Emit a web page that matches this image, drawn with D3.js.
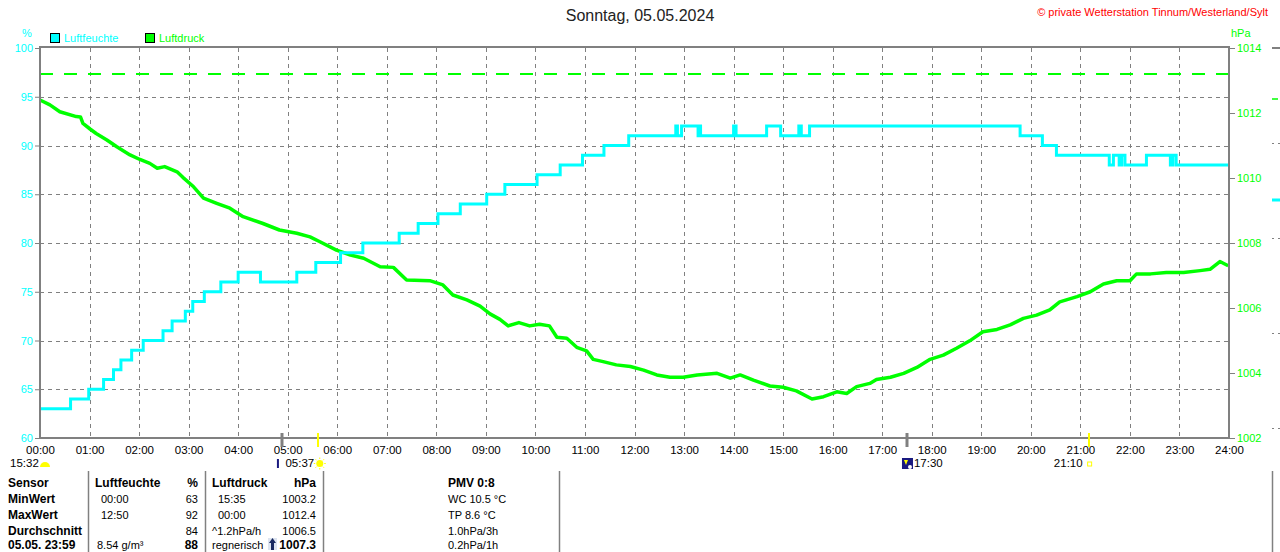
<!DOCTYPE html>
<html>
<head>
<meta charset="utf-8">
<script src="https://cdn.jsdelivr.net/npm/d3@7"></script>
<style>
  body { margin: 0; background: #fff; }
  svg { display: block; font-family: "Liberation Sans", Arial, sans-serif; }
</style>
</head>
<body>
<svg id="chart" width="1280" height="552"></svg>
<script>
// ---------------- DATA ----------------
const hourLabels = ["00:00","01:00","02:00","03:00","04:00","05:00","06:00","07:00","08:00","09:00","10:00","11:00","12:00",
  "13:00","14:00","15:00","16:00","17:00","18:00","19:00","20:00","21:00","22:00","23:00","24:00"];
const humTicks = [60, 65, 70, 75, 80, 85, 90, 95, 100];
const pressTicks = [1002, 1004, 1006, 1008, 1010, 1012, 1014];
const refPressure = 1013.2;

// Luftfeuchte (%), step changes
const humTimes = ["00:00","00:37","00:59","01:17","01:29","01:38","01:51","02:05","02:29","02:40","02:56","03:05","03:19","03:39",
  "04:00","04:27","05:11","05:34","06:04","06:31","07:15","07:38","08:02","08:29","09:01","09:23","10:02","10:30","10:57",
  "11:23","11:53","12:50","12:52","12:57","13:17","13:19","13:20","14:00","14:03","14:40","14:57","15:19","15:22","15:32",
  "19:47","20:14","20:31","21:35","21:40","21:47","21:50","21:54","22:20","22:49","22:52","22:56","24:00"];
const humValues = [63,64,65,66,67,68,69,70,71,72,73,74,75,76,
  77,76,77,78,79,80,81,82,83,84,85,86,87,88,89,
  90,91,92,91,92,91,92,91,92,91,92,91,92,91,92,
  91,90,89,88,89,88,89,88,89,88,89,88,88];

// Luftdruck (hPa)
const pressTimes = ["00:00","00:12","00:24","00:44","00:49","00:52","01:01","01:08","01:21","01:33","01:49","02:01","02:13","02:22",
  "02:31","02:46","02:53","03:06","03:18","03:34","03:50","04:06","04:30","04:50","05:11","05:27","05:39","05:59","06:16",
  "06:32","06:52","07:08","07:24","07:52","08:08","08:20","08:37","08:53","09:05","09:17","09:27","09:40","09:53","10:05",
  "10:17","10:26","10:38","10:50","11:02","11:10","11:22","11:38","11:55","12:11","12:27","12:43","12:59","13:16","13:40",
  "13:56","14:08","14:24","14:44","15:00","15:16","15:35","15:49","16:05","16:17","16:29","16:45","16:53","17:10","17:26",
  "17:42","17:58","18:14","18:30","18:46","19:02","19:19","19:35","19:51","20:07","20:23","20:35","20:56","21:12","21:28",
  "21:44","22:00","22:08","22:25","22:44","23:05","23:25","23:37","23:49","23:59"];
const pressValues = [1012.40,1012.25,1012.04,1011.89,1011.88,1011.68,1011.50,1011.37,1011.17,1010.96,1010.71,1010.57,1010.45,1010.30,
  1010.35,1010.19,1010.02,1009.73,1009.38,1009.22,1009.07,1008.81,1008.60,1008.40,1008.30,1008.19,1008.04,1007.78,1007.63,
  1007.53,1007.27,1007.25,1006.86,1006.84,1006.71,1006.40,1006.25,1006.06,1005.82,1005.65,1005.45,1005.55,1005.45,1005.50,
  1005.45,1005.10,1005.07,1004.79,1004.68,1004.42,1004.35,1004.25,1004.20,1004.09,1003.94,1003.87,1003.87,1003.94,1003.99,
  1003.84,1003.94,1003.78,1003.60,1003.56,1003.45,1003.20,1003.27,1003.42,1003.37,1003.58,1003.68,1003.80,1003.87,1003.99,
  1004.17,1004.42,1004.55,1004.76,1004.99,1005.27,1005.34,1005.48,1005.68,1005.78,1005.94,1006.19,1006.35,1006.50,1006.74,
  1006.84,1006.84,1007.05,1007.05,1007.09,1007.09,1007.15,1007.19,1007.43,1007.30];

// astronomical markers
const markerTimes = ["04:53", "05:37", "17:30", "21:10"];
const markerKinds = ["dawn", "sunrise", "moonrise", "sunset"];
const moonsetLabel = "15:32";

// table
const tableLabels = ["Sensor", "MinWert", "MaxWert", "Durchschnitt", "05.05. 23:59"];
const humTimeCol = ["", "00:00", "12:50", "", "8.54 g/m³"];
const humValCol = ["%", "63", "92", "84", "88"];
const pressTimeCol = ["Luftdruck", "15:35", "00:00", "^1.2hPa/h", "regnerisch"];
const pressValCol = ["hPa", "1003.2", "1012.4", "1006.5", "1007.3"];
const extraCol = ["PMV 0:8", "WC 10.5 °C", "TP 8.6 °C", "1.0hPa/3h", "0.2hPa/1h"];

// ---------------- CHART ----------------
const svg = d3.select("#chart");
const toMin = s => { const [h, m] = s.split(":").map(Number); return h * 60 + m; };

const L = 40, R = 1229, T = 48, B = 438;
const x = d3.scaleLinear().domain([0, 1440]).range([L, R]);
const yH = d3.scaleLinear().domain([60, 100]).range([B, T]);
const yP = d3.scaleLinear().domain([1002, 1014]).range([B, T]);

const GRAY = "#808080", CYAN = "#00ffff", GREEN = "#00ff00";

// Title & copyright
svg.append("text").attr("x", 640).attr("y", 21).attr("text-anchor", "middle")
  .attr("font-size", 16).attr("fill", "#222").text("Sonntag, 05.05.2024");
svg.append("text").attr("x", 1268).attr("y", 16).attr("text-anchor", "end")
  .attr("font-size", 11).attr("fill", "#ff0000").text("© private Wetterstation Tinnum/Westerland/Sylt");

// Unit labels
svg.append("text").attr("x", 22).attr("y", 37).attr("font-size", 11).attr("fill", CYAN).text("%");
svg.append("text").attr("x", 1231).attr("y", 37).attr("font-size", 11).attr("fill", GREEN).text("hPa");

// Legend
const legend = [["Luftfeuchte", CYAN, 50], ["Luftdruck", GREEN, 145]];
legend.forEach(([name, col, lx]) => {
  svg.append("rect").attr("x", lx + 0.5).attr("y", 33.5).attr("width", 9).attr("height", 9)
    .attr("fill", col).attr("stroke", "#000").attr("stroke-width", 1);
  svg.append("text").attr("x", lx + 14).attr("y", 42).attr("font-size", 11).attr("fill", col).text(name);
});

// Grid
const grid = svg.append("g").attr("stroke", GRAY).attr("stroke-width", 1).attr("stroke-dasharray", "4,4");
d3.range(1, 24).forEach(h => {
  const gx = Math.round(x(h * 60)) + 0.5;
  grid.append("line").attr("x1", gx).attr("x2", gx).attr("y1", T).attr("y2", B);
});
humTicks.filter(v => v > 60 && v < 100).forEach(v => {
  const gy = Math.round(yH(v)) + 0.5;
  grid.append("line").attr("x1", L).attr("x2", R).attr("y1", gy).attr("y2", gy);
});

// Reference pressure line
svg.append("line").attr("x1", L).attr("x2", R).attr("y1", yP(refPressure)).attr("y2", yP(refPressure))
  .attr("stroke", GREEN).attr("stroke-width", 2).attr("stroke-dasharray", "13,11");

// Series
const pressData = pressTimes.map((t, i) => [toMin(t), pressValues[i]]);
const humData = humTimes.map((t, i) => [toMin(t), humValues[i]]);

svg.append("path").datum(pressData)
  .attr("d", d3.line().x(d => x(d[0])).y(d => yP(d[1])))
  .attr("fill", "none").attr("stroke", GREEN).attr("stroke-width", 3.5).attr("stroke-linejoin", "round");

svg.append("path").datum(humData)
  .attr("d", d3.line().x(d => x(d[0])).y(d => yH(d[1])).curve(d3.curveStepAfter))
  .attr("fill", "none").attr("stroke", CYAN).attr("stroke-width", 3);

// Frame
const frame = svg.append("g").attr("stroke", GRAY).attr("stroke-width", 2).attr("fill", "none");
frame.append("line").attr("x1", L - 1).attr("x2", R + 1).attr("y1", T - 1).attr("y2", T - 1);
frame.append("line").attr("x1", L - 1).attr("x2", R + 1).attr("y1", B).attr("y2", B);
frame.append("line").attr("x1", L).attr("x2", L).attr("y1", T - 1).attr("y2", B + 1);
frame.append("line").attr("x1", R).attr("x2", R).attr("y1", T - 1).attr("y2", B + 1);

// Left axis
const axL = svg.append("g").attr("transform", `translate(${L - 1},0)`)
  .call(d3.axisLeft(yH).tickValues(humTicks).tickSize(4).tickPadding(2).tickFormat(d3.format("d")));
axL.select(".domain").remove();
axL.selectAll("line").attr("stroke", GRAY);
axL.selectAll("text").attr("fill", CYAN).attr("font-size", 11).attr("font-family", "Liberation Sans, Arial");

// Right axis
const axR = svg.append("g").attr("transform", `translate(${R + 1},0)`)
  .call(d3.axisRight(yP).tickValues(pressTicks).tickSize(5).tickPadding(2).tickFormat(d3.format("d")));
axR.select(".domain").remove();
axR.selectAll("line").attr("stroke", GRAY);
axR.selectAll("text").attr("fill", GREEN).attr("font-size", 11).attr("font-family", "Liberation Sans, Arial");

// Bottom axis labels
const axB = svg.append("g").attr("transform", `translate(0,${B})`)
  .call(d3.axisBottom(x).tickValues(d3.range(0, 25).map(h => h * 60)).tickSize(0).tickPadding(8)
    .tickFormat((d, i) => hourLabels[i]));
axB.select(".domain").remove();
axB.selectAll("text").attr("fill", "#000").attr("font-size", 11.5).attr("font-family", "Liberation Sans, Arial");

// Astronomical markers
markerTimes.forEach((t, i) => {
  const mx = Math.round(x(toMin(t)));
  const kind = markerKinds[i];
  const col = (kind === "sunrise" || kind === "sunset") ? "#ffff00" : GRAY;
  svg.append("line").attr("x1", mx).attr("x2", mx).attr("y1", B - 5).attr("y2", B + 9)
    .attr("stroke", col).attr("stroke-width", kind === "dawn" || kind === "moonrise" ? 3 : 2);
});
// bottom marker labels
const lab = (tx, t, anchor) => svg.append("text").attr("x", tx).attr("y", 467).attr("font-size", 11.5)
  .attr("text-anchor", anchor || "start").attr("fill", "#000").text(t);
lab(10, moonsetLabel);
// moonset icon (yellow half disc)
svg.append("path").attr("d", d3.arc()({innerRadius: 0, outerRadius: 5, startAngle: -Math.PI / 2, endAngle: Math.PI / 2}))
  .attr("transform", "translate(45,467)").attr("fill", "#ffff00");
// dawn small mark
svg.append("rect").attr("x", x(toMin(markerTimes[0])) - 5).attr("y", 459).attr("width", 2).attr("height", 9).attr("fill", "#1a1a80");
lab(x(toMin(markerTimes[1])) - 4, markerTimes[1], "end");
// sun icon
const sx = x(toMin(markerTimes[1])) + 1.5, sy = 463.5;
svg.append("circle").attr("cx", sx).attr("cy", sy).attr("r", 3.5).attr("fill", "#ffff00");
d3.range(8).forEach(k => {
  const a = k * Math.PI / 4;
  svg.append("line").attr("x1", sx + Math.cos(a) * 4.5).attr("y1", sy + Math.sin(a) * 4.5)
    .attr("x2", sx + Math.cos(a) * 6).attr("y2", sy + Math.sin(a) * 6)
    .attr("stroke", "#ffff00").attr("stroke-width", 1);
});
// moonrise icon
const mrx = x(toMin(markerTimes[2]));
svg.append("rect").attr("x", mrx - 5).attr("y", 458).attr("width", 11).attr("height", 11).attr("fill", "#1a1a80");
svg.append("path").attr("d", `M${mrx - 3},460 L${mrx + 1},460 L${mrx - 1},465 Z`).attr("fill", "#ffff00");
svg.append("circle").attr("cx", mrx + 3).attr("cy", 467).attr("r", 2).attr("fill", "#fff");
lab(mrx + 7, markerTimes[2]);
// sunset
const ssx = x(toMin(markerTimes[3]));
lab(ssx - 6, markerTimes[3], "end");
svg.append("rect").attr("x", ssx - 1).attr("y", 462).attr("width", 4).attr("height", 4)
  .attr("fill", "none").attr("stroke", "#ffff00").attr("stroke-width", 1);

// Far-right fragment of next panel
const fr = svg.append("g");
fr.append("line").attr("x1", 1272).attr("x2", 1280).attr("y1", 48).attr("y2", 48).attr("stroke", GRAY).attr("stroke-width", 2);
fr.append("line").attr("x1", 1272).attr("x2", 1278).attr("y1", 99).attr("y2", 99).attr("stroke", GREEN).attr("stroke-width", 1.5);
fr.append("line").attr("x1", 1272).attr("x2", 1280).attr("y1", 200).attr("y2", 200).attr("stroke", CYAN).attr("stroke-width", 3);
[143, 238, 333, 428].forEach(gy => fr.append("line").attr("x1", 1272).attr("x2", 1280).attr("y1", gy + 0.5).attr("y2", gy + 0.5)
  .attr("stroke", GRAY).attr("stroke-dasharray", "2,4"));

// Table
const rowY = [487, 503, 519, 535, 549];
const tb = svg.append("g").attr("font-size", 11).attr("fill", "#000");
[88.5, 205.5, 323.5, 559.5, 1272.5].forEach(sx2 => svg.append("line").attr("x1", sx2).attr("x2", sx2)
  .attr("y1", 471).attr("y2", 552).attr("stroke", GRAY).attr("stroke-width", 1.5));
rowY.forEach((ry, i) => {
  tb.append("text").attr("x", 8).attr("y", ry).attr("font-weight", "bold").attr("font-size", 12).text(tableLabels[i]);
  if (i === 0) tb.append("text").attr("x", 95).attr("y", ry).attr("font-weight", "bold").attr("font-size", 12).text("Luftfeuchte");
  else tb.append("text").attr("x", i === 4 ? 97 : 101).attr("y", ry).text(humTimeCol[i]);
  const bv = (i === 0 || i === 4);
  tb.append("text").attr("x", 198).attr("y", ry).attr("text-anchor", "end")
    .attr("font-weight", bv ? "bold" : "normal").attr("font-size", bv ? 12 : 11).text(humValCol[i]);
  tb.append("text").attr("x", (i === 1 || i === 2) ? 218 : 212).attr("y", ry)
    .attr("font-weight", i === 0 ? "bold" : "normal").attr("font-size", i === 0 ? 12 : 11).text(pressTimeCol[i]);
  tb.append("text").attr("x", 316).attr("y", ry).attr("text-anchor", "end")
    .attr("font-weight", bv ? "bold" : "normal").attr("font-size", bv ? 12 : 11).text(pressValCol[i]);
  tb.append("text").attr("x", 448).attr("y", ry)
    .attr("font-weight", i === 0 ? "bold" : "normal").attr("font-size", i === 0 ? 12 : 11).text(extraCol[i]);
});
// trend arrow
svg.append("rect").attr("x", 268).attr("y", 538).attr("width", 9).attr("height", 12).attr("fill", "#dde4f0");
svg.append("path").attr("d", "M272.5,538 L276,543 L274,543 L274,550 L271,550 L271,543 L269,543 Z").attr("fill", "#1a2a60");
</script>
</body>
</html>
